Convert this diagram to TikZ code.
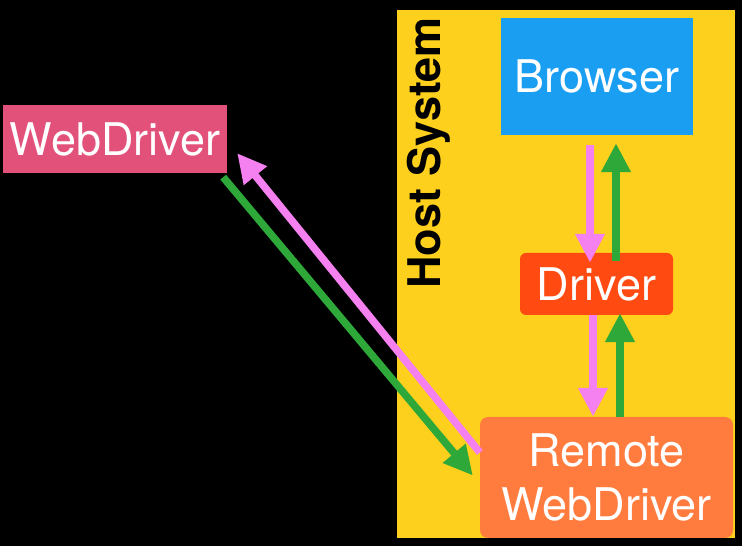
\documentclass[tikz,border=0pt]{standalone}
\usepackage{fontspec}
\setmainfont{TeX Gyre Heros}
\usetikzlibrary{arrows.meta}
\definecolor{hostyellow}{HTML}{FDD01E}
\definecolor{browserblue}{HTML}{1A9EF2}
\definecolor{driverred}{HTML}{FF4B12}
\definecolor{remoteorange}{HTML}{FF7C3E}
\definecolor{wdpink}{HTML}{E2517A}
\definecolor{callgreen}{HTML}{2EA838}
\definecolor{callpink}{HTML}{F580F0}
\begin{document}
\begin{tikzpicture}[x=1pt,y=1pt]
    \tikzset{>={Triangle[width=28pt,length=29pt]}}
    \tikzset{box/.style={inner sep=0pt,text=white,align=center,font=\fontsize{45}{54}\selectfont}}
    \tikzset{call/.style={->,line width=7.5pt}}
    \fill[black] (0,0) rectangle (742,546);
    \useasboundingbox (0,0) rectangle (742,546);

    \fill[hostyellow] (397,8) rectangle (735,536);
    \node (host) at (429,393) [rotate=90,font=\bfseries\fontsize{45}{50}\selectfont] {Host System};

    \node (webdriver) at (115,407) [box,fill=wdpink,minimum width=224pt,minimum height=68pt] {WebDriver};
    \node (browser) at (597,469.5) [box,fill=browserblue,minimum width=192pt,minimum height=117pt] {Browser};
    \node (driver) at (596.5,262) [box,fill=driverred,rounded corners=6pt,minimum width=153pt,minimum height=62pt] {Driver};
    \node (remote) at (606.5,68.5) [box,fill=remoteorange,rounded corners=8pt,minimum width=253pt,minimum height=121pt] {Remote\\WebDriver};

    \draw [call,callpink] ([xshift=-7pt,yshift=-10pt]browser.south) -- ([xshift=-6.5pt,yshift=-10pt]driver.north);
    \draw [call,callgreen] ([xshift=19.5pt,yshift=-8pt]driver.north) -- ([xshift=19pt,yshift=-8pt]browser.south);
    \draw [call,callpink] ([xshift=-3.5pt]driver.south) -- ([xshift=-13.5pt]remote.north);
    \draw [call,callgreen] ([xshift=13.5pt]remote.north) -- ([xshift=23.5pt,yshift=2pt]driver.south);

    \draw [call,callgreen] ([xshift=-4pt,yshift=-4pt]webdriver.south east) -- ([xshift=-7pt,yshift=2pt]remote.west);
    \draw [call,callpink] ([yshift=25pt]remote.west) -- ([xshift=10pt,yshift=20pt]webdriver.south east);
\end{tikzpicture}
\end{document}
